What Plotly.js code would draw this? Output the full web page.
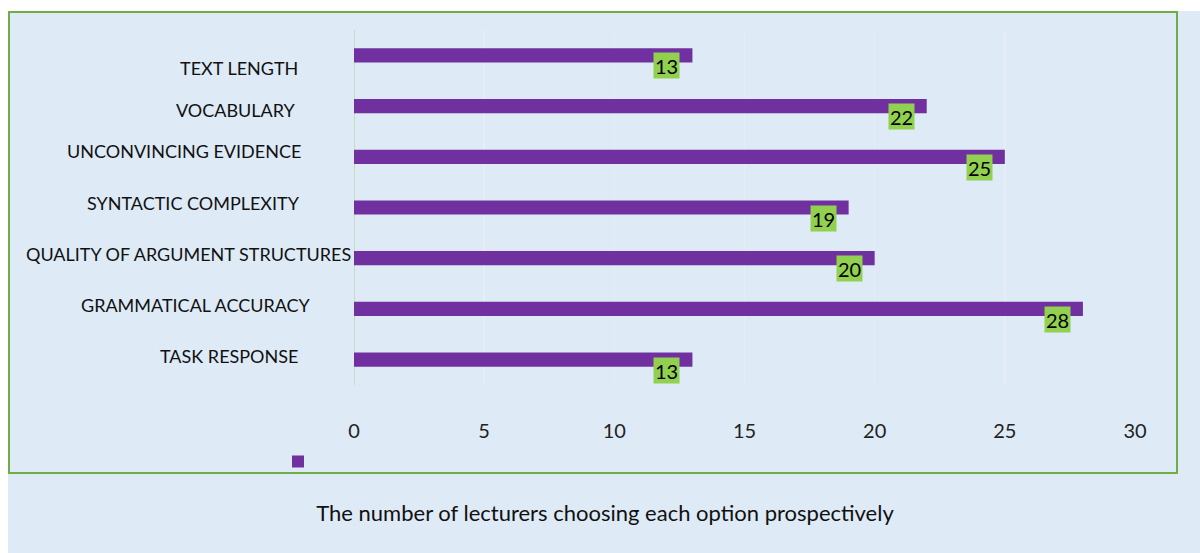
<!DOCTYPE html>
<html>
<head>
<meta charset="utf-8">
<script src="https://cdn.plot.ly/plotly-3.0.1.min.js"></script>
<style>
  html, body { margin: 0; padding: 0; background: #ffffff; }
  #chart { width: 1200px; height: 553px; }
</style>
</head>
<body>
<div id="chart"></div>
<script>
// Criteria, listed bottom to top as they appear on the axis
const categories = [
  "TASK RESPONSE",
  "GRAMMATICAL ACCURACY",
  "QUALITY OF ARGUMENT STRUCTURES",
  "SYNTACTIC COMPLEXITY",
  "UNCONVINCING EVIDENCE",
  "VOCABULARY",
  "TEXT LENGTH"
];
// Number of lecturers choosing each criterion
const lecturerCounts = [13, 28, 20, 19, 25, 22, 13];
const xTickValues = [0, 5, 10, 15, 20, 25, 30];
const xTickLabels = ["0", "5", "10", "15", "20", "25", "30"];
const xAxisTitle = "The number of lecturers choosing each option prospectively";

// Placement tweaks for the category labels (pixels: right edge offset, vertical shift)
const labelOffsetX = [-54, -41, -1, -52, -51, -56, -54];
const labelOffsetY = [4, 4, 4, 5, 6, -4, -13];

const FONT = "Lato, 'Open Sans', sans-serif";
const BG = "#DEEAF6";
const PURPLE = "#7030A0";
const LABEL_GREEN = "#92D050";
const BORDER_GREEN = "#70AD47";

const W = 1200, H = 553;
const margin = { l: 354, r: 65, t: 30, b: 168 };
const plotW = W - margin.l - margin.r;
const plotH = H - margin.t - margin.b;
// convert absolute pixels to paper coordinates
const px = x => (x - margin.l) / plotW;
const py = y => 1 - (y - margin.t) / plotH;

const trace = {
  type: "bar",
  orientation: "h",
  y: categories,
  x: lecturerCounts,
  name: " ",
  width: 0.28,
  marker: { color: PURPLE },
  hoverinfo: "x+y",
  showlegend: true
};

const annotations = [];
// category labels
categories.forEach((c, i) => {
  annotations.push({
    xref: "x", yref: "y", x: 0, y: c,
    text: c, showarrow: false,
    xanchor: "right", yanchor: "middle",
    xshift: labelOffsetX[i], yshift: labelOffsetY[i],
    font: { family: FONT, size: 18, color: "#111111" }
  });
});
// value labels
lecturerCounts.forEach((v, i) => {
  annotations.push({
    xref: "x", yref: "y", x: v, y: categories[i],
    text: String(v), showarrow: false,
    xanchor: "center", yanchor: "middle",
    xshift: -25.5, yshift: -10.5,
    width: 25, height: 25, borderpad: 0,
    valign: "bottom",
    bgcolor: LABEL_GREEN,
    font: { family: FONT, size: 20, color: "#000000" }
  });
});

const layout = {
  width: W, height: H,
  margin: margin,
  paper_bgcolor: "#ffffff",
  plot_bgcolor: "rgba(0,0,0,0)",
  font: { family: FONT, color: "#222222" },
  showlegend: true,
  legend: {
    xref: "container", yref: "container",
    x: 278 / W, y: 1 - 447 / H,
    xanchor: "left", yanchor: "top",
    bgcolor: "rgba(0,0,0,0)",
    font: { family: FONT, size: 12 }
  },
  title: {
    text: xAxisTitle,
    xref: "container", yref: "container",
    x: 605 / W, y: 1 - 513 / H,
    xanchor: "center", yanchor: "middle",
    font: { family: FONT, size: 22, color: "#111111" }
  },
  xaxis: {
    range: [0, 30],
    tickvals: xTickValues,
    ticktext: xTickLabels,
    showgrid: true,
    gridcolor: "#E5EDF8",
    gridwidth: 1.5,
    zeroline: false,
    showline: false,
    ticks: "",
    ticklabelstandoff: 32,
    tickfont: { family: FONT, size: 20, color: "#222222" },
    fixedrange: true
  },
  yaxis: {
    type: "category",
    categoryorder: "array",
    categoryarray: categories,
    showticklabels: false,
    showgrid: false,
    zeroline: false,
    showline: false,
    ticks: "",
    fixedrange: true
  },
  shapes: [
    // light blue panel
    { type: "rect", xref: "paper", yref: "paper", layer: "below",
      x0: px(8), x1: px(1200), y0: py(11), y1: py(553),
      fillcolor: BG, line: { width: 0 } },
    // green frame around the chart area
    { type: "rect", xref: "paper", yref: "paper", layer: "below",
      x0: px(9), x1: px(1177), y0: py(473), y1: py(12),
      fillcolor: "rgba(0,0,0,0)", line: { color: BORDER_GREEN, width: 2 } },
    // category axis line at zero
    { type: "line", xref: "x", yref: "paper", layer: "below",
      x0: 0, x1: 0, y0: 0, y1: 1,
      line: { color: "#A9D18E", width: 1 } }
  ],
  annotations: annotations,
  bargap: 0.72
};

Plotly.newPlot("chart", [trace], layout, { displayModeBar: false, staticPlot: true });
</script>
</body>
</html>
